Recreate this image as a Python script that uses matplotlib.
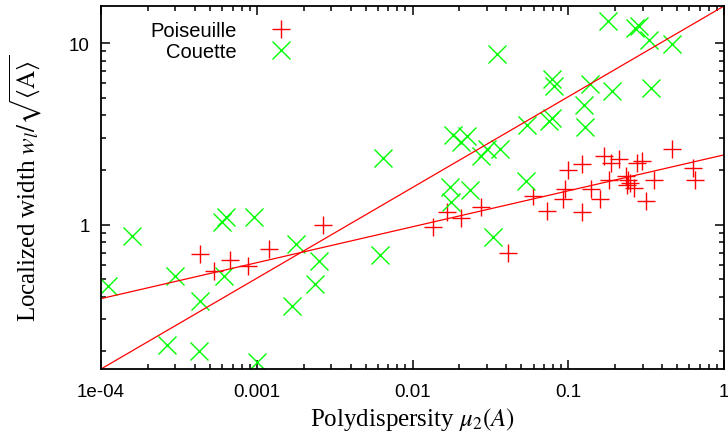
import matplotlib
matplotlib.use("Agg")
import matplotlib.pyplot as plt
from matplotlib.ticker import LogLocator, FixedLocator, FixedFormatter, NullFormatter
import numpy as np

# Poiseuille flow samples (red +)
pois_x = [4.32e-4, 5.31e-4, 6.73e-4, 8.79e-4, 1.20e-3, 2.66e-3, 0.0135, 0.0167,
          0.0205, 0.0275, 0.0410, 0.0594, 0.0730, 0.0925, 0.0953, 0.0995, 0.1225,
          0.1225, 0.140, 0.160, 0.170, 0.188, 0.212, 0.183, 0.235, 0.242, 0.249,
          0.238, 0.264, 0.276, 0.297, 0.315, 0.355, 0.463, 0.632, 0.652]
pois_y = [0.690, 0.557, 0.640, 0.593, 0.735, 1.00, 0.971, 1.174,
          1.089, 1.25, 0.699, 1.44, 1.19, 1.38, 1.57, 2.00, 2.16,
          1.174, 1.57, 1.38, 2.39, 2.18, 2.30, 1.76, 1.85, 1.76, 1.69,
          1.65, 1.59, 2.18, 2.24, 1.35, 1.76, 2.61, 2.05, 1.76]

# Couette flow samples (green x)
cou_x = [1.11e-4, 1.58e-4, 2.98e-4, 5.98e-4, 6.35e-4, 9.6e-4, 6.17e-4, 4.32e-4,
         2.65e-4, 4.26e-4, 1.0e-3, 1.79e-3, 2.51e-3, 2.37e-3, 1.68e-3, 6.18e-3,
         6.47e-3, 0.0349, 0.0787, 0.081, 0.0543, 0.0751, 0.0787, 0.0182, 0.0224,
         0.0205, 0.0275, 0.0301, 0.0365, 0.0174, 0.0234, 0.0177, 0.0536, 0.0329,
         0.180, 0.268, 0.284, 0.330, 0.463, 0.138, 0.191, 0.340, 0.126, 0.128]
cou_y = [0.46, 0.867, 0.523, 1.035, 1.10, 1.10, 0.523, 0.381,
         0.2156, 0.200, 0.174, 0.783, 0.632, 0.472, 0.357, 0.682,
         2.33, 8.67, 6.32, 5.78, 3.53, 3.71, 3.86, 3.11, 3.07,
         2.85, 2.39, 2.61, 2.61, 1.61, 1.55, 1.33, 1.74, 0.856,
         13.3, 12.05, 12.35, 10.35, 9.84, 5.93, 5.43, 5.64, 4.55, 3.44]

# power-law fits  y = a * x**b
fit_pois = (2.42, 0.198)
fit_cou = (16.0, 0.5)

xticks = [1e-4, 1e-3, 1e-2, 1e-1, 1]
xtick_labels = ["1e-04", "0.001", "0.01", "0.1", "1"]
yticks = [1, 10]
ytick_labels = ["1", "10"]

plt.rcParams["font.family"] = ["Liberation Sans", "DejaVu Sans"]
plt.rcParams["mathtext.fontset"] = "stix"

fig = plt.figure(figsize=(7.28, 4.39), dpi=100)
ax = fig.add_axes([101 / 728, 1 - 370 / 439, 623 / 728, 363 / 439])

ax.plot(pois_x, pois_y, linestyle="none", marker="+", markersize=13,
        markeredgewidth=1.0, color="#ff0000", label="Poiseuille")
ax.plot(cou_x, cou_y, linestyle="none", marker="x", markersize=13,
        markeredgewidth=1.0, color="#00ff00", label="Couette")

xs = np.logspace(-4, 0, 200)
for a, b in (fit_pois, fit_cou):
    ax.plot(xs, a * xs ** b, color="#ff0000", linewidth=0.9)

ax.set_xscale("log")
ax.set_yscale("log")
ax.set_xlim(1e-4, 1)
ax.set_ylim(0.16, 16)

ax.xaxis.set_major_locator(FixedLocator(xticks))
ax.xaxis.set_major_formatter(FixedFormatter(xtick_labels))
ax.yaxis.set_major_locator(FixedLocator(yticks))
ax.yaxis.set_major_formatter(FixedFormatter(ytick_labels))
ax.xaxis.set_minor_locator(LogLocator(base=10, subs=np.arange(2, 10)))
ax.yaxis.set_minor_locator(LogLocator(base=10, subs=np.arange(2, 10)))
ax.xaxis.set_minor_formatter(NullFormatter())
ax.yaxis.set_minor_formatter(NullFormatter())

ax.tick_params(which="both", direction="in", top=True, right=True, width=1.1)
ax.tick_params(which="major", length=6.5, labelsize=13.5)
ax.tick_params(axis="x", which="major", pad=10)
ax.tick_params(axis="y", which="major", pad=8)
ax.tick_params(which="minor", length=3.5)
for s in ax.spines.values():
    s.set_linewidth(1.3)

ax.set_xlabel(r"Polydispersity $\mu_2(A)$", family="Liberation Serif", fontsize=18)
ax.set_ylabel(r"Localized width $w_l/\sqrt{\langle\mathrm{A}\rangle}$",
              family="Liberation Serif", fontsize=18)
ax.xaxis.set_label_coords(0.5, -0.100)
ax.yaxis.set_label_coords(-0.092, 0.5)

ax.legend(loc="upper right", bbox_to_anchor=(311.5 / 728, 1 - 12 / 439),
          bbox_transform=fig.transFigure, frameon=False, markerfirst=False,
          fontsize=14.5, borderpad=0, handlelength=2.0, handletextpad=1.2,
          labelspacing=0.1)

fig.savefig("out.png", dpi=100)
